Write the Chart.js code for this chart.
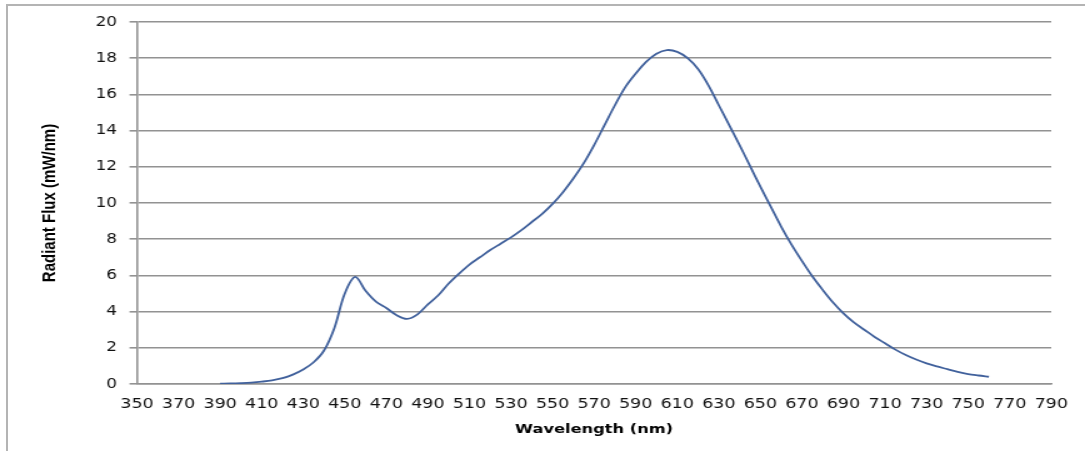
<!DOCTYPE html>
<html>
<head>
<meta charset="utf-8">
<script src="https://cdn.jsdelivr.net/npm/chart.js@4"></script>
<style>
    html, body { margin: 0; padding: 0; background: #fff; overflow: hidden; }
    .frame {
        position: absolute; left: 6px; top: 4px;
        width: 1200px; height: 600px;
        border: 2px solid #b4b4b4;
    }
    /* the source picture is stretched sideways, so the chart is too */
    .stretch {
        position: absolute; left: 0; top: 0;
        width: 868px; height: 451px;
        transform: scaleX(1.25); transform-origin: 0 0;
    }
</style>
</head>
<body>
<div class="frame"></div>
<div class="stretch"><canvas id="spectrumChart"></canvas></div>
<script>
const wavelengths = [
    390, 395, 400, 405, 410, 415, 420, 425, 430, 435, 440, 445, 450, 455, 460, 465,
    470, 475, 480, 485, 490, 495, 500, 505, 510, 515, 520, 525, 530, 535, 540, 545,
    550, 555, 560, 565, 570, 575, 580, 585, 590, 595, 600, 605, 610, 615, 620, 625,
    630, 635, 640, 645, 650, 655, 660, 665, 670, 675, 680, 685, 690, 695, 700, 705,
    710, 715, 720, 725, 730, 735, 740, 745, 750, 755, 760
];
const radiantFlux = [
    0.02, 0.03, 0.05, 0.08, 0.13, 0.2, 0.32, 0.52, 0.8, 1.2, 1.85, 3.1, 5.0, 5.92, 5.15, 4.55,
    4.2, 3.8, 3.6, 3.85, 4.4, 4.9, 5.55, 6.1, 6.6, 7.0, 7.4, 7.75, 8.1, 8.5, 8.95, 9.4,
    9.95, 10.6, 11.35, 12.2, 13.2, 14.3, 15.4, 16.4, 17.15, 17.8, 18.25, 18.45, 18.35, 18.0, 17.4, 16.5,
    15.4, 14.3, 13.2, 12.05, 10.9, 9.8, 8.7, 7.7, 6.8, 5.95, 5.2, 4.5, 3.9, 3.4, 3.0, 2.6,
    2.25, 1.9, 1.6, 1.35, 1.14, 0.97, 0.82, 0.67, 0.55, 0.47, 0.4
];
const xTicks = { min: 350, max: 790, step: 20 };
const yTicks = { min: 0, max: 20, step: 2 };

document.addEventListener('DOMContentLoaded', () => {
    renderSpectrumChart();
});

function renderSpectrumChart() {
    const ctx = document.getElementById('spectrumChart').getContext('2d');
    const gridColor = '#929292';

    new Chart(ctx, {
        type: 'line',
        data: {
            datasets: [{
                data: wavelengths.map((w, i) => ({ x: w, y: radiantFlux[i] })),
                borderColor: '#41619c',
                borderWidth: 1.8,
                pointRadius: 0,
                fill: false,
                tension: 0.35
            }]
        },
        options: {
            responsive: true,
            maintainAspectRatio: false,
            animation: false,
            layout: {
                padding: { left: 6, top: 22, right: 27, bottom: 0 }
            },
            plugins: {
                legend: { display: false },
                tooltip: { enabled: false }
            },
            scales: {
                x: {
                    type: 'linear',
                    min: xTicks.min,
                    max: xTicks.max,
                    afterFit: scale => { scale.height = 67; },
                    grid: { display: false, drawTicks: false },
                    border: { display: true, color: gridColor, width: 1.6 },
                    ticks: {
                        stepSize: xTicks.step,
                        autoSkip: false,
                        maxRotation: 0,
                        padding: 12,
                        color: '#111',
                        font: { family: 'DejaVu Sans', size: 14 }
                    },
                    title: {
                        display: true,
                        text: 'Wavelength (nm)',
                        color: '#000',
                        padding: { top: 0, bottom: 14 },
                        font: { family: 'DejaVu Sans', size: 13, weight: 'bold' }
                    }
                },
                y: {
                    min: yTicks.min,
                    max: yTicks.max,
                    afterFit: scale => { scale.width = 103.6; },
                    grid: {
                        color: gridColor,
                        lineWidth: 1.6,
                        tickLength: 6
                    },
                    border: { display: true, color: gridColor, width: 1.6 },
                    ticks: {
                        stepSize: yTicks.step,
                        padding: 10,
                        color: '#111',
                        font: { family: 'DejaVu Sans', size: 13.5 }
                    },
                    title: {
                        display: true,
                        text: 'Radiant Flux (mW/nm)',
                        color: '#000',
                        padding: { top: 25, bottom: 0 },
                        font: { family: "'Liberation Sans Narrow', 'Liberation Sans', sans-serif", size: 15, weight: 'bold' }
                    }
                }
            }
        }
    });
}
</script>
</body>
</html>
